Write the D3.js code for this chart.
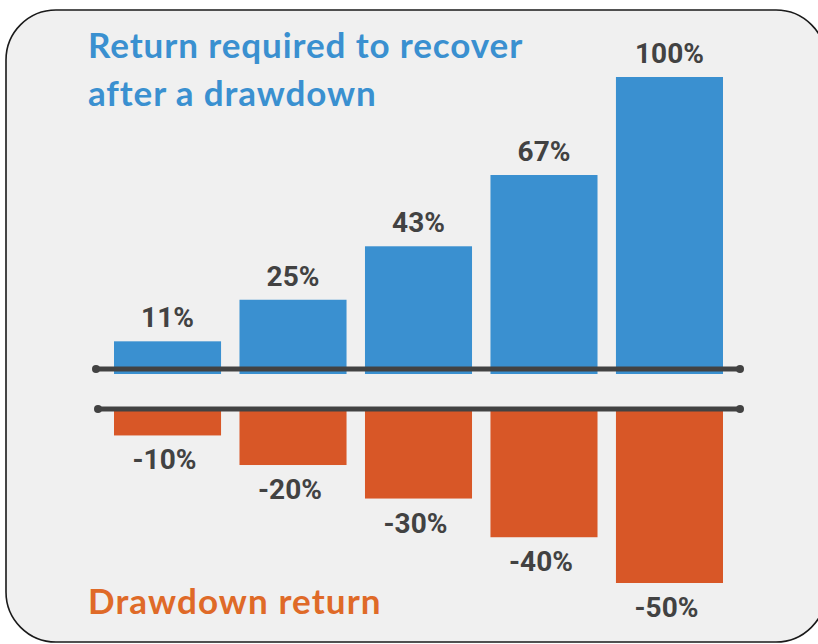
<!DOCTYPE html>
<html>
<head>
<meta charset="utf-8">
<script src="https://cdn.jsdelivr.net/npm/d3@7"></script>
<style>
  body { margin: 0; background: #fff; }
  svg { display: block; }
</style>
</head>
<body>
<svg id="chart"></svg>
<script>
// data
var categories = ["10%", "20%", "30%", "40%", "50%"];
var recovery = [11, 25, 43, 67, 100];          // return required to recover, %
var drawdown = [-10, -20, -30, -40, -50];       // drawdown return, %
var recoveryLabels = ["11%", "25%", "43%", "67%", "100%"];
var drawdownLabels = ["-10%", "-20%", "-30%", "-40%", "-50%"];

var width = 818, height = 644;
var blue = "#3a90d0", orange = "#d85727", ink = "#424242";

var svg = d3.select("#chart").attr("width", width).attr("height", height);

// card background
svg.append("rect")
  .attr("x", 6).attr("y", 10)
  .attr("width", 820).attr("height", 632)
  .attr("rx", 50).attr("ry", 50)
  .attr("fill", "#f0f0f0")
  .attr("stroke", "#1a1a1a")
  .attr("stroke-width", 1.6);

var x = d3.scaleBand()
  .domain(categories)
  .range([114, 723])
  .paddingInner(0.147)
  .paddingOuter(0);

// upper half: linear scale for required recovery
var yUp = d3.scaleLinear().domain([0, 100]).range([374, 77]);
// lower half: the bars follow log(1 + r)
var yDown = d3.scaleLog().domain([1, 0.5]).range([409, 583]);

var upAxisY = 369, downAxisY = 409;

svg.append("g").selectAll("rect")
  .data(recovery)
  .join("rect")
    .attr("x", function (d, i) { return x(categories[i]) })
    .attr("width", x.bandwidth())
    .attr("y", function (d) { return yUp(d) })
    .attr("height", function (d) { return yUp(0) - yUp(d) })
    .attr("fill", blue);

svg.append("g").selectAll("rect")
  .data(drawdown)
  .join("rect")
    .attr("x", function (d, i) { return x(categories[i]) })
    .attr("width", x.bandwidth())
    .attr("y", yDown(1))
    .attr("height", function (d) { return yDown(1 + d / 100) - yDown(1) })
    .attr("fill", orange);

// value labels
svg.append("g").selectAll("text")
  .data(recovery)
  .join("text")
    .attr("x", function (d, i) { return x(categories[i]) + x.bandwidth() / 2 })
    .attr("y", function (d) { return yUp(d) - 14 })
    .attr("text-anchor", "middle")
    .attr("font-family", "Roboto, sans-serif")
    .attr("font-weight", 700)
    .attr("font-size", 28)
    .attr("fill", ink)
    .text(function (d, i) { return recoveryLabels[i] });

svg.append("g").selectAll("text")
  .data(drawdown)
  .join("text")
    .attr("x", function (d, i) { return x(categories[i]) + x.bandwidth() / 2 - 3 })
    .attr("y", function (d) { return yDown(1 + d / 100) + 34 })
    .attr("text-anchor", "middle")
    .attr("font-family", "Roboto, sans-serif")
    .attr("font-weight", 700)
    .attr("font-size", 28)
    .attr("fill", ink)
    .text(function (d, i) { return drawdownLabels[i] });

// the two baselines with round ends
var x0 = x.range()[0] - 18, x1 = x.range()[1] + 17;
[[upAxisY, x0], [downAxisY, x0 + 2]].forEach(function (ln) {
  var g = svg.append("g");
  g.append("line")
    .attr("x1", ln[1]).attr("x2", x1)
    .attr("y1", ln[0]).attr("y2", ln[0])
    .attr("stroke", ink).attr("stroke-width", 5);
  g.selectAll("circle")
    .data([ln[1], x1])
    .join("circle")
      .attr("cx", function (d) { return d })
      .attr("cy", ln[0])
      .attr("r", 4)
      .attr("fill", ink);
});

// titles
var title = svg.append("text")
  .attr("x", 88)
  .attr("font-family", "Lato, sans-serif")
  .attr("font-weight", 700)
  .attr("font-size", 35)
  .attr("letter-spacing", 0.9)
  .attr("fill", blue);
title.append("tspan").attr("x", 88).attr("y", 58).text("Return required to recover");
title.append("tspan").attr("x", 88).attr("y", 106).text("after a drawdown");

svg.append("text")
  .attr("x", 88).attr("y", 614)
  .attr("font-family", "Lato, sans-serif")
  .attr("font-weight", 700)
  .attr("font-size", 35)
  .attr("letter-spacing", 1.1)
  .attr("fill", "#df6a28")
  .text("Drawdown return");
</script>
</body>
</html>
